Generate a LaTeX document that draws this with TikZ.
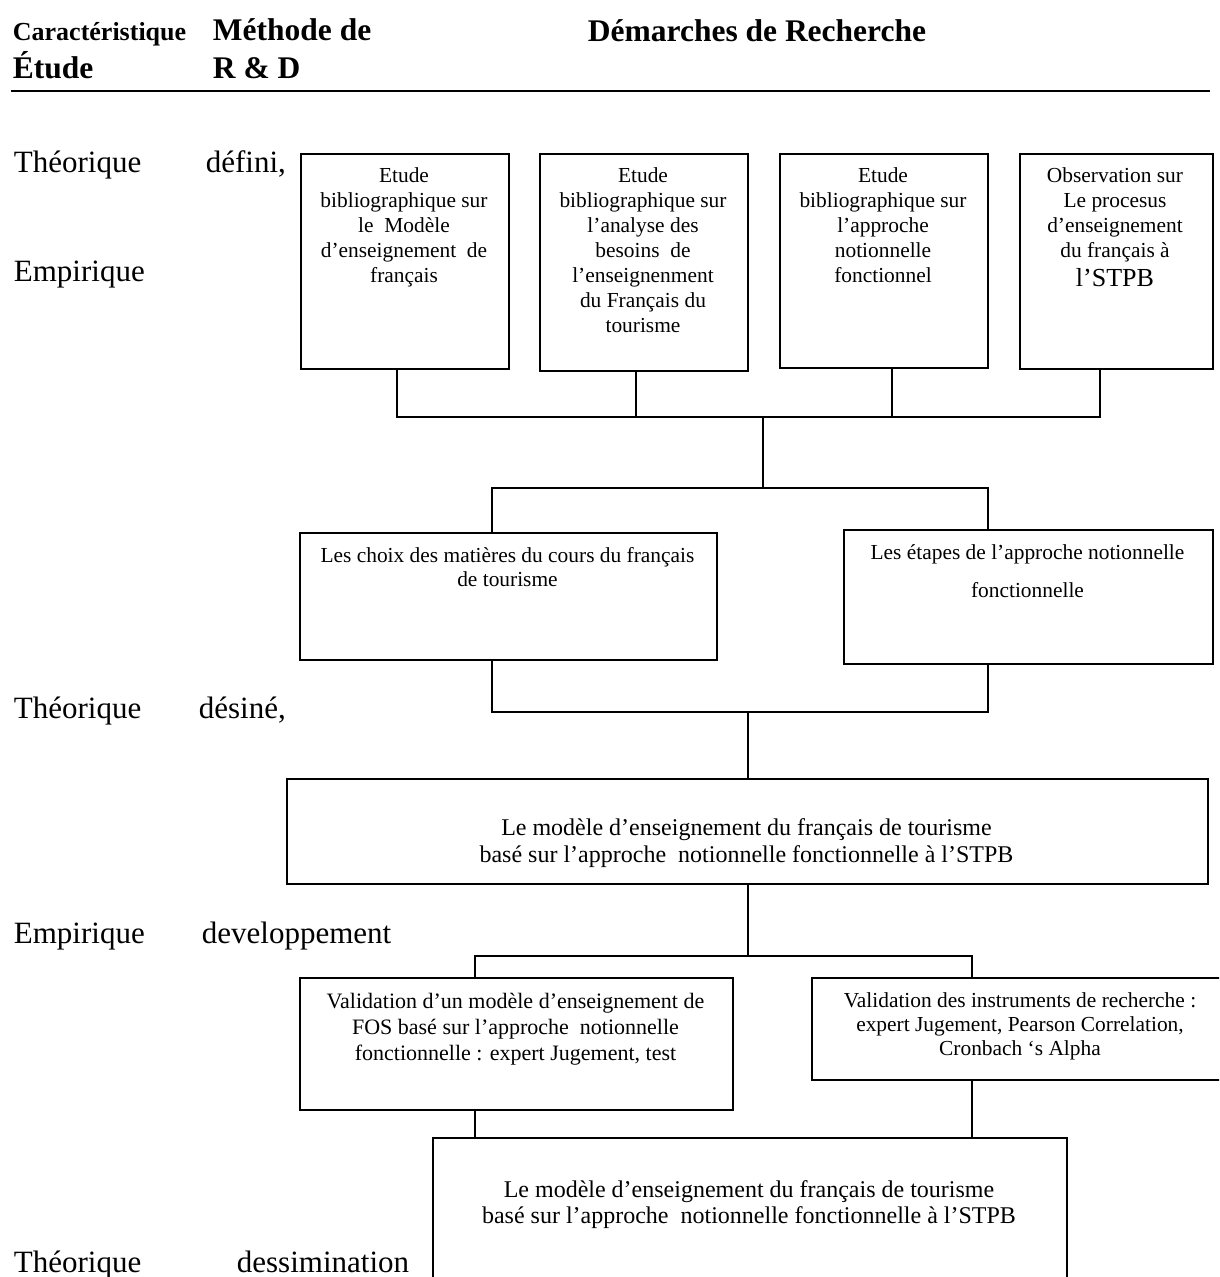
\documentclass[tikz,border=0pt]{standalone}
\usepackage{fontspec}
\setmainfont{Liberation Serif}
\begin{document}
\begin{tikzpicture}[x=1pt,y=-1pt,line width=1.8pt,
  box/.style={draw,line width=1.8pt,inner sep=0pt,anchor=north west},
  lbl/.style={anchor=base west,inner sep=0pt,font=\fontsize{31}{36}\selectfont},
  hdr/.style={anchor=base west,inner sep=0pt,font=\bfseries\fontsize{31.5}{36}\selectfont},
  txt/.style={anchor=base,inner sep=0pt}]
\useasboundingbox (0,0) rectangle (1219,1277);
\clip (0,0) rectangle (1219,1277);
\fill[white] (0,0) rectangle (1219,1277);

% header
\node[anchor=base west,inner sep=0pt,font=\bfseries\fontsize{26}{30}\selectfont] (h1) at (12,40) {Caractéristique};
\node[hdr] (h2) at (12,78) {Étude};
\node[hdr] (h3) at (212,40) {Méthode de};
\node[hdr] (h4) at (212,78) {R \& D};
\node[hdr] (h5) at (587,41) {Démarches de Recherche};
\coordinate (hL) at (11,91);
\coordinate (hR) at (1210,91);
\draw[line width=2.5pt] (hL) -- (hR);

% left labels
\node[lbl] (l1) at (13,172) {Théorique};
\node[lbl] (l1b) at (205,172) {défini,};
\node[lbl] (l2) at (13,281) {Empirique};
\node[lbl] (l3) at (13,718) {Théorique};
\node[lbl] (l3b) at (198,718) {désiné,};
\node[lbl] (l4) at (13,943) {Empirique};
\node[lbl] (l4b) at (201,943) {developpement};
\node[lbl] (l5) at (13,1272) {Théorique};
\node[lbl] (l5b) at (236,1272) {dessimination};

% top boxes
\node[box,minimum width=208pt,minimum height=215pt] (b1) at (300,153) {};
\node[box,minimum width=208pt,minimum height=217pt] (b2) at (539,153) {};
\node[box,minimum width=208pt,minimum height=214pt] (b3) at (779,153) {};
\node[box,minimum width=193pt,minimum height=215pt] (b4) at (1019,153) {};
\node[txt] (t1) at (404,182) {\parbox[t]{200pt}{\centering\fontsize{21.4}{25}\selectfont Etude\\bibliographique sur\\le\ \ Modèle\\d’enseignement\ \ de\\français}};
\node[txt] (t2) at (643,182) {\parbox[t]{200pt}{\centering\fontsize{21.4}{25}\selectfont Etude\\bibliographique sur\\l’analyse des\\besoins\ \ de\\l’enseignenment\\du Français du\\tourisme}};
\node[txt] (t3) at (883,182) {\parbox[t]{200pt}{\centering\fontsize{21.4}{25}\selectfont Etude\\bibliographique sur\\l’approche\\notionnelle\\fonctionnel}};
\node[txt] (t4) at (1115,182) {\parbox[t]{190pt}{\centering\fontsize{21.4}{25}\selectfont Observation sur\\Le procesus\\d’enseignement\\du français à\par\fontsize{26}{29}\selectfont l’STPB}};

% level 2 boxes
\node[box,minimum width=417pt,minimum height=127pt] (c1) at (299,532) {};
\node[box,minimum width=369pt,minimum height=134pt] (c2) at (843,529) {};
\node[txt] (tc1) at (507.5,562) {\parbox[t]{410pt}{\centering\fontsize{21.4}{24}\selectfont Les choix des matières du cours du français\\de tourisme}};
\node[txt] (tc2) at (1027.5,559) {\parbox[t]{360pt}{\centering\fontsize{21.4}{38}\selectfont Les étapes de l’approche notionnelle\\fonctionnelle}};

% model box
\node[box,minimum width=921pt,minimum height=105pt] (m1) at (286,778) {};
\node[txt] (tm1) at (746.5,835) {\parbox[t]{900pt}{\centering\fontsize{24}{27}\selectfont Le modèle d’enseignement du français de tourisme\\basé sur l’approche\ \ notionnelle fonctionnelle à l’STPB}};

% validation boxes
\node[box,minimum width=433pt,minimum height=132pt] (v1) at (299,977) {};
\node[box,minimum width=415pt,minimum height=102pt] (v2) at (811,977) {};
\node[txt] (tv1) at (515.5,1008) {\parbox[t]{430pt}{\centering\fontsize{22}{26}\selectfont Validation d’un modèle d’enseignement de\\FOS basé sur l’approche\ \ notionnelle\\fonctionnelle : expert Jugement, test}};
\node[txt] (tv2) at (1020,1007) {\parbox[t]{400pt}{\centering\fontsize{21.4}{24}\selectfont Validation des instruments de recherche :\\expert Jugement, Pearson Correlation,\\Cronbach ‘s Alpha}};

% final box
\node[box,minimum width=634pt,minimum height=170pt] (f1) at (432,1137) {};
\node[txt] (tf1) at (749,1197) {\parbox[t]{630pt}{\centering\fontsize{24}{26}\selectfont Le modèle d’enseignement du français de tourisme\\basé sur l’approche\ \ notionnelle fonctionnelle à l’STPB}};

% junctions
\coordinate (j1L) at (397,417);
\coordinate (j1R) at (1100,417);
\coordinate (d2) at (636,417);
\coordinate (d3) at (892,417);
\coordinate (j1M) at (763,417);
\coordinate (j2M) at (763,488);
\coordinate (j2L) at (492,488);
\coordinate (j2R) at (988,488);
\coordinate (j3L) at (492,712);
\coordinate (j3R) at (988,712);
\coordinate (j3M) at (748,712);
\coordinate (j4M) at (748,956);
\coordinate (j4L) at (475,956);
\coordinate (j4R) at (972,956);

% connectors
\draw (b1.south -| j1L) -- (j1L) -- (j1R) -- (b4.south -| j1R);
\draw (b2.south -| d2) -- (d2);
\draw (b3.south -| d3) -- (d3);
\draw (j1M) -- (j2M);
\draw (c1.north -| j2L) -- (j2L) -- (j2R) -- (c2.north -| j2R);
\draw (c1.south -| j3L) -- (j3L) -- (j3R) -- (c2.south -| j3R);
\draw (j3M) -- (m1.north -| j3M);
\draw (m1.south -| j4M) -- (j4M);
\draw (v1.north -| j4L) -- (j4L) -- (j4R) -- (v2.north -| j4R);
\draw (v1.south -| j4L) -- (f1.north -| j4L);
\draw (v2.south -| j4R) -- (f1.north -| j4R);
\end{tikzpicture}
\end{document}
